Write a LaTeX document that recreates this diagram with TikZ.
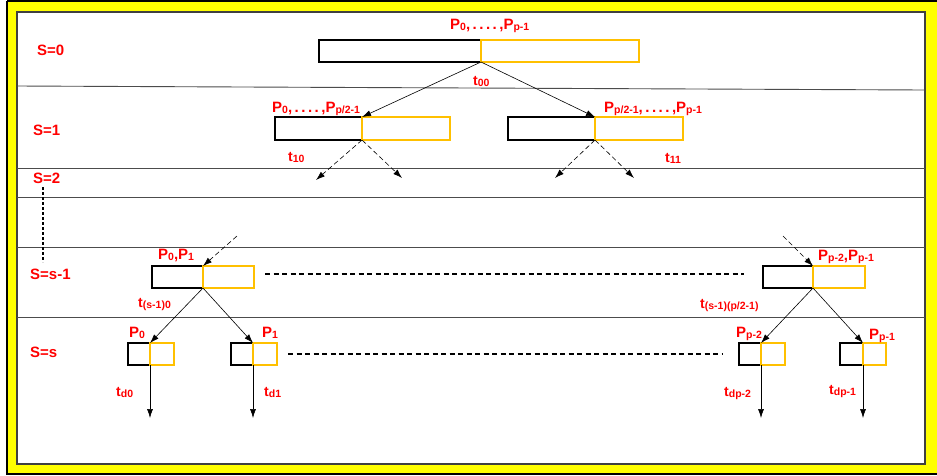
\documentclass[tikz,border=0pt]{standalone}
\usepackage{fontspec}
\setmainfont{Liberation Sans}
\usetikzlibrary{arrows.meta}
\definecolor{frameyellow}{HTML}{FFFF00}
\definecolor{boxgold}{HTML}{FFC000}
\newcommand\lo[1]{\raisebox{-1pt}{\fontsize{10.5}{10.5}\selectfont #1}}
\tikzset{
  lbl/.style={anchor=base west, inner sep=0pt, text=red, font=\bfseries\fontsize{15}{15}\selectfont},
  tlbl/.style={anchor=base west, inner sep=0pt, text=red, font=\bfseries\fontsize{14}{14}\selectfont},
  bbox/.style={draw=black, line width=1.8pt, inner sep=0pt, outer sep=0pt, fill=white},
  ybox/.style={draw=boxgold, line width=1.8pt, inner sep=0pt, outer sep=0pt},
  sep/.style={draw=black!70, line width=0.9pt},
  arr/.style={-{Latex[length=9pt,width=6pt]}, line width=0.6pt},
  darr/.style={arr, dash pattern=on 5pt off 3pt},
  dline/.style={line width=1.8pt, dash pattern=on 5pt off 3.5pt},
}
\begin{document}
\begin{tikzpicture}[x=1pt,y=-1pt]
\useasboundingbox (0,0) rectangle (937,475);
% frame
\fill[frameyellow] (7,1) rectangle (945,474);
\draw[black, line width=1.2pt] (7,1) -- (945,1) (7,1) -- (7,474) -- (945,474);
\draw[fill=white, draw=black!75, line width=1.2pt] (17,12) rectangle (925,464);
% separators
\draw[sep] (17,86) -- (925,90);
\draw[sep] (17,168) -- (925,168);
\draw[sep] (17,197) -- (925,197);
\draw[sep] (17,247) -- (925,247);
\draw[sep] (17,317) -- (925,317);
% stage labels
\node[lbl] (s0) at (37,55) {S=0};
\node[lbl] (s1) at (33,135) {S=1};
\node[lbl] (s2) at (33,183) {S=2};
\node[lbl] (ss1) at (30,279) {S=s-1};
\node[lbl] (ss) at (30,357) {S=s};
\coordinate (dtop) at (43,187);
\coordinate (dbot) at (43,262);
\draw[line width=2pt, dash pattern=on 2.5pt off 2.5pt] (dtop) -- (dbot);
% level 0
\node[bbox, minimum width=162pt, minimum height=22pt] (b0) at (400,51) {};
\node[ybox, minimum width=158pt, minimum height=22pt] (y0) at (560,51) {};
\node[lbl] (p0) at (450,29) {P\lo{0},\,.\,.\,.\,.\,,P\lo{p-1}};
\node[tlbl] (t00) at (473,85) {t\lo{00}};
% level 1
\node[bbox, minimum width=87pt, minimum height=23pt] (b1l) at (318.5,128.5) {};
\node[ybox, minimum width=88pt, minimum height=23pt] (y1l) at (406,128.5) {};
\node[bbox, minimum width=87pt, minimum height=23pt] (b1r) at (551.5,128.5) {};
\node[ybox, minimum width=88pt, minimum height=23pt] (y1r) at (639,128.5) {};
\node[lbl] (p1l) at (272,112) {P\lo{0},\,.\,.\,.\,.\,,P\lo{p/2-1}};
\node[lbl] (p1r) at (604,112) {P\lo{p/2-1},\,.\,.\,.\,.\,,P\lo{p-1}};
\node[tlbl] (t10) at (288,161) {t\lo{10}};
\node[tlbl] (t11) at (665,162) {t\lo{11}};
\draw[arr] (y0.south west) -- (y1l.north west);
\draw[arr] (y0.south west) -- (y1r.north west);
\coordinate (e1) at (316,180);
\coordinate (e2) at (402,178);
\coordinate (e3) at (555,178);
\coordinate (e4) at (634,178);
\draw[darr] (y1l.south west) -- (e1);
\draw[darr] (y1l.south west) -- (e2);
\draw[darr] (y1r.south west) -- (e3);
\draw[darr] (y1r.south west) -- (e4);
% level s-1
\node[bbox, minimum width=51pt, minimum height=22pt] (bal) at (177.5,277) {};
\node[ybox, minimum width=51pt, minimum height=22pt] (yal) at (228.5,277) {};
\node[bbox, minimum width=50pt, minimum height=22pt] (bar) at (788,277) {};
\node[ybox, minimum width=52pt, minimum height=22pt] (yar) at (839,277) {};
\node[lbl] (pal) at (158,259) {P\lo{0},P\lo{1}};
\node[lbl] (par) at (818,260) {P\lo{p-2},P\lo{p-1}};
\node[tlbl] (tal) at (138,307) {t\lo{(s-1)0}};
\node[tlbl] (tar) at (700,308) {t\lo{(s-1)(p/2-1)}};
\coordinate (i1) at (237,236);
\coordinate (i2) at (783,236);
\draw[darr] (i1) -- (yal.north west);
\draw[darr] (i2) -- (yar.north west);
\coordinate (h1a) at (265,274);
\coordinate (h1b) at (744,274);
\draw[dline] (h1a) -- (h1b);
% level s
\node[bbox, minimum width=22pt, minimum height=22pt] (bs0) at (139,354) {};
\node[ybox, minimum width=24pt, minimum height=22pt] (ys0) at (162,354) {};
\node[bbox, minimum width=22pt, minimum height=22pt] (bs1) at (242,354) {};
\node[ybox, minimum width=24pt, minimum height=22pt] (ys1) at (265,354) {};
\node[bbox, minimum width=22pt, minimum height=22pt] (bs2) at (750,354) {};
\node[ybox, minimum width=24pt, minimum height=22pt] (ys2) at (773,354) {};
\node[bbox, minimum width=23pt, minimum height=22pt] (bs3) at (851.5,354) {};
\node[ybox, minimum width=23pt, minimum height=22pt] (ys3) at (874.5,354) {};
\node[lbl] (ps0) at (129,337) {P\lo{0}};
\node[lbl] (ps1) at (262,337) {P\lo{1}};
\node[lbl] (ps2) at (736,337) {P\lo{p-2}};
\node[lbl] (ps3) at (869,339) {P\lo{p-1}};
\draw[arr] (yal.south west) -- (ys0.north west);
\draw[arr] (yal.south west) -- (ys1.north west);
\draw[arr] (yar.south west) -- (ys2.north west);
\draw[arr] (yar.south west) -- (ys3.north west);
\coordinate (h2a) at (288,354);
\coordinate (h2b) at (722,354);
\draw[dline] (h2a) -- (h2b);
\coordinate (o0) at (150,418);
\coordinate (o1) at (253,418);
\coordinate (o2) at (761,418);
\coordinate (o3) at (863,418);
\draw[arr] (ys0.south west) -- (o0);
\draw[arr] (ys1.south west) -- (o1);
\draw[arr] (ys2.south west) -- (o2);
\draw[arr] (ys3.south west) -- (o3);
\node[tlbl] (td0) at (116,396) {t\lo{d0}};
\node[tlbl] (td1) at (264,396) {t\lo{d1}};
\node[tlbl] (td2) at (724,396) {t\lo{dp-2}};
\node[tlbl] (td3) at (829,394) {t\lo{dp-1}};
\end{tikzpicture}
\end{document}
